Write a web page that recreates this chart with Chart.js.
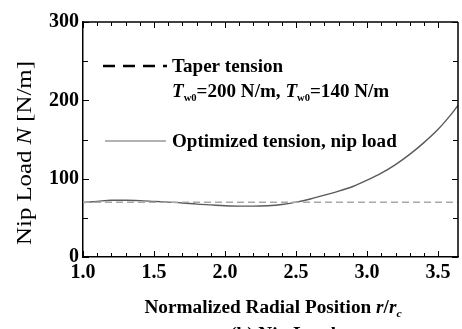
<!DOCTYPE html>
<html>
<head>
<meta charset="utf-8">
<script src="https://cdn.jsdelivr.net/npm/chart.js@4.4.1/dist/chart.umd.min.js"></script>
<style>
  html, body { margin: 0; padding: 0; background: #ffffff; }
  #wrap { width: 462px; height: 329px; }
</style>
</head>
<body>
<div id="wrap"><canvas id="c" width="462" height="329"></canvas></div>
<script>
// ---- data ----
const radialPosition = [1.0, 1.1, 1.2, 1.3, 1.4, 1.5, 1.6, 1.7, 1.8, 1.9, 2.0, 2.1, 2.2, 2.3, 2.4, 2.5, 2.6, 2.7, 2.8, 2.9, 3.0, 3.1, 3.2, 3.3, 3.4, 3.5, 3.6, 3.65];
const optimizedNipLoad = [69.5, 71, 72.5, 72.5, 72, 71, 70, 69, 67.5, 66.5, 65.5, 65, 65, 65.5, 67, 70, 74, 79, 84, 90, 98, 107, 118, 131, 146, 163, 184, 196];
const taperNipLoad = [70, 70];
const taperPosition = [1.0, 3.65];
const yTickLabels = ['0', '100', '200', '300'];
const xTickLabels = ['1.0', '1.5', '2.0', '2.5', '3.0', '3.5'];
const legendLabels = ['Taper tension', 'Optimized tension, nip load'];

const SERIF = '"Liberation Serif", "DejaVu Serif", serif';

const optimizedPoints = radialPosition.map((x, i) => ({ x: x, y: optimizedNipLoad[i] }));
const taperPoints = taperPosition.map((x, i) => ({ x: x, y: taperNipLoad[i] }));

function drawRich(ctx, parts, x, y, align, sx) {
  sx = sx || 1;
  let total = 0;
  parts.forEach(p => { ctx.font = p.style + ' ' + p.size + 'px ' + SERIF; p.w = ctx.measureText(p.t).width; total += p.w; });
  ctx.save();
  ctx.translate(x, y);
  ctx.scale(sx, 1);
  let cx = align === 'center' ? -total / 2 : 0;
  parts.forEach(p => {
    ctx.font = p.style + ' ' + p.size + 'px ' + SERIF;
    ctx.fillText(p.t, cx, (p.dy || 0));
    cx += p.w;
  });
  ctx.restore();
}

const decor = {
  id: 'decor',
  afterDraw(chart) {
    const ctx = chart.ctx;
    const a = chart.chartArea;
    const xs = chart.scales.x, ys = chart.scales.y;
    ctx.save();
    ctx.strokeStyle = '#000';
    ctx.lineWidth = 1.5;
    ctx.beginPath();
    ctx.moveTo(a.left, a.top); ctx.lineTo(a.right, a.top);
    ctx.moveTo(a.right, a.top); ctx.lineTo(a.right, a.bottom);
    ctx.stroke();
    ctx.lineWidth = 1;
    xs.ticks.forEach(t => {
      const v = t.value;
      if (v > xs.max - 1e-6) return;
      const px = Math.round(xs.getPixelForValue(v)) + 0.5;
      const major = Math.abs(v * 2 - Math.round(v * 2)) < 1e-6;
      const len = major ? 6 : 4;
      ctx.beginPath();
      ctx.moveTo(px, a.bottom); ctx.lineTo(px, a.bottom - len);
      ctx.moveTo(px, a.top); ctx.lineTo(px, a.top + len);
      ctx.stroke();
    });
    ys.ticks.forEach(t => {
      const v = t.value;
      const py = Math.round(ys.getPixelForValue(v)) + 0.5;
      const len = (v % 100 === 0) ? 6 : 5;
      ctx.beginPath();
      ctx.moveTo(a.left, py); ctx.lineTo(a.left + len, py);
      ctx.moveTo(a.right, py); ctx.lineTo(a.right - len, py);
      ctx.stroke();
    });

    ctx.fillStyle = '#000';
    ctx.textBaseline = 'alphabetic';
    // y axis title (rotated)
    ctx.save();
    ctx.translate(31, 153);
    ctx.rotate(-Math.PI / 2);
    drawRich(ctx, [
      { t: 'Nip Load ', style: 'normal', size: 21 },
      { t: 'N', style: 'italic', size: 21 },
      { t: ' [N/m]', style: 'normal', size: 21 }
    ], 0, 0, 'center', 1.18);
    ctx.restore();

    // x axis title
    drawRich(ctx, [
      { t: 'Normalized Radial Position ', style: 'bold', size: 18 },
      { t: 'r', style: 'italic bold', size: 18 },
      { t: '/', style: 'bold', size: 18 },
      { t: 'r', style: 'italic bold', size: 18 },
      { t: 'c', style: 'italic bold', size: 11, dy: 4 }
    ], 273, 313, 'center', 1.07);

    // caption (cut off at bottom in the reference)
    drawRich(ctx, [
      { t: '(b) Nip Load', style: 'bold', size: 18 }
    ], 283, 340, 'center', 1.07);

    // legend
    ctx.save();
    ctx.strokeStyle = '#000';
    ctx.lineWidth = 2.5;
    ctx.setLineDash([12, 8]);
    ctx.beginPath();
    ctx.moveTo(103, 66); ctx.lineTo(167, 66);
    ctx.stroke();
    ctx.setLineDash([]);
    ctx.strokeStyle = '#666';
    ctx.lineWidth = 1.2;
    ctx.beginPath();
    ctx.moveTo(105, 141); ctx.lineTo(166, 141);
    ctx.stroke();
    ctx.restore();

    drawRich(ctx, [{ t: legendLabels[0], style: 'bold', size: 18 }], 172, 72, 'left', 1.06);
    drawRich(ctx, [
      { t: 'T', style: 'italic bold', size: 18 },
      { t: 'w0', style: 'bold', size: 10, dy: 4 },
      { t: '=200 N/m, ', style: 'bold', size: 18 },
      { t: 'T', style: 'italic bold', size: 18 },
      { t: 'w0', style: 'bold', size: 10, dy: 4 },
      { t: '=140 N/m', style: 'bold', size: 18 }
    ], 172, 97, 'left', 1.06);
    drawRich(ctx, [{ t: legendLabels[1], style: 'bold', size: 18 }], 172, 147, 'left', 1.06);
    ctx.restore();
  }
};

new Chart(document.getElementById('c'), {
  type: 'line',
  data: {
    datasets: [
      {
        label: legendLabels[0],
        data: taperPoints,
        borderColor: '#a8a8a8',
        borderWidth: 1.5,
        borderDash: [7, 4],
        pointRadius: 0,
        tension: 0
      },
      {
        label: legendLabels[1],
        data: optimizedPoints,
        borderColor: '#5a5a5a',
        borderWidth: 1.4,
        pointRadius: 0,
        cubicInterpolationMode: 'monotone'
      }
    ]
  },
  options: {
    responsive: false,
    animation: false,
    devicePixelRatio: 1,
    layout: { padding: { top: 22, right: 0, left: 0, bottom: 0 } },
    plugins: { legend: { display: false }, tooltip: { enabled: false } },
    scales: {
      x: {
        type: 'linear',
        min: 1.0,
        max: 3.64,
        grid: { display: false, drawTicks: false },
        border: { display: true, color: '#000', width: 1.5 },
        afterFit(s) { s.height = 72; },
        ticks: {
          stepSize: 0.1,
          autoSkip: false,
          maxRotation: 0,
          padding: 4,
          color: '#000',
          font: { family: SERIF, size: 20, weight: 'bold' },
          callback(v) {
            const k = Math.round(v * 2);
            if (Math.abs(v * 2 - k) > 1e-6) return '';
            const lab = (k / 2).toFixed(1);
            return xTickLabels.includes(lab) ? lab : '';
          }
        }
      },
      y: {
        min: 0,
        max: 300,
        grid: { display: false, drawTicks: false },
        border: { display: true, color: '#000', width: 1.5 },
        afterFit(s) { s.width = 83; },
        ticks: {
          stepSize: 50,
          autoSkip: false,
          padding: 4,
          color: '#000',
          font: { family: SERIF, size: 20, weight: 'bold' },
          callback(v) {
            const lab = String(v);
            return yTickLabels.includes(lab) ? lab : '';
          }
        }
      }
    }
  },
  plugins: [decor]
});
</script>
</body>
</html>
